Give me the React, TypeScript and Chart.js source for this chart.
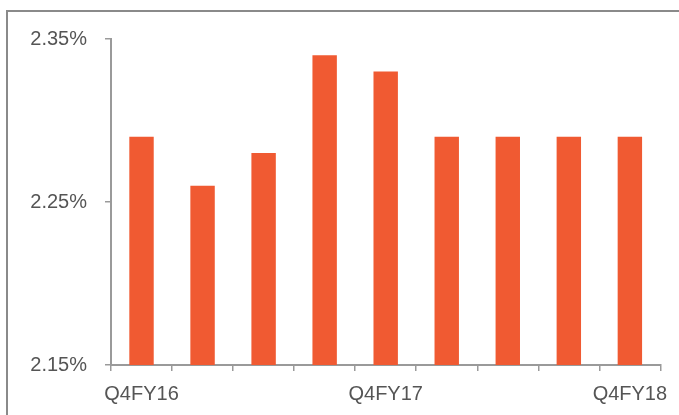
import React, { useEffect, useRef } from "react";
import { Chart, registerables } from "chart.js";

Chart.register(...registerables);

const categories = ["Q4FY16", "Q1FY17", "Q2FY17", "Q3FY17", "Q4FY17", "Q1FY18", "Q2FY18", "Q3FY18", "Q4FY18"];
const shownLabels = ["Q4FY16", "Q4FY17", "Q4FY18"];
const marginValues = [2.29, 2.26, 2.28, 2.34, 2.33, 2.29, 2.29, 2.29, 2.29];
const yTickValues = [2.15, 2.25, 2.35];

const framePlugin = {
  id: "frame",
  beforeDraw(chart: any) {
    const ctx = chart.ctx;
    ctx.save();
    ctx.strokeStyle = "#8a8a8a";
    ctx.lineWidth = 2;
    ctx.beginPath();
    ctx.moveTo(7, chart.height);
    ctx.lineTo(7, 11);
    ctx.lineTo(chart.width, 11);
    ctx.stroke();
    ctx.restore();
  },
};

export default function App() {
  const ref = useRef<HTMLCanvasElement | null>(null);
  useEffect(() => {
    if (!ref.current) return;
    const axisColor = "#9a9a9a";
    const font = { family: "'Liberation Sans', Arial, sans-serif", size: 20 };
    const chart = new Chart(ref.current, {
      type: "bar",
      data: {
        labels: categories,
        datasets: [
          {
            data: marginValues,
            backgroundColor: "#F05A32",
            barPercentage: 0.4,
            categoryPercentage: 1,
          },
        ],
      },
      options: {
        animation: false,
        responsive: false,
        devicePixelRatio: 1,
        layout: { padding: { left: 0, right: 16, top: 39, bottom: 0 } },
        plugins: { legend: { display: false }, tooltip: { enabled: false } },
        scales: {
          x: {
            grid: {
              offset: true,
              drawOnChartArea: false,
              drawTicks: true,
              tickLength: 6,
              color: axisColor,
              lineWidth: 1.5,
            },
            border: { color: axisColor, width: 2 },
            ticks: {
              autoSkip: false,
              maxRotation: 0,
              padding: 11,
              color: "#555555",
              font,
              callback: (_v: any, i: number) =>
                shownLabels.includes(categories[i]) ? categories[i] : "",
            },
            afterFit: (scale: any) => {
              scale.height = 50;
            },
          },
          y: {
            min: 2.15,
            max: 2.35,
            grid: {
              drawOnChartArea: false,
              drawTicks: true,
              tickLength: 6,
              color: axisColor,
              lineWidth: 1.5,
            },
            border: { color: axisColor, width: 2 },
            afterBuildTicks: (scale: any) => {
              scale.ticks = yTickValues.map((v) => ({ value: v }));
            },
            ticks: {
              padding: 18,
              color: "#555555",
              font,
              callback: (v: any) => Number(v).toFixed(2) + "%",
            },
            afterFit: (scale: any) => {
              scale.width = 111;
            },
          },
        },
      },
      plugins: [framePlugin],
    });
    return () => chart.destroy();
  }, []);
  return (
    <div style={{ position: "fixed", left: 0, top: 0, width: 679, height: 415, background: "#fff" }}>
      <canvas ref={ref} width={679} height={415} />
    </div>
  );
}
